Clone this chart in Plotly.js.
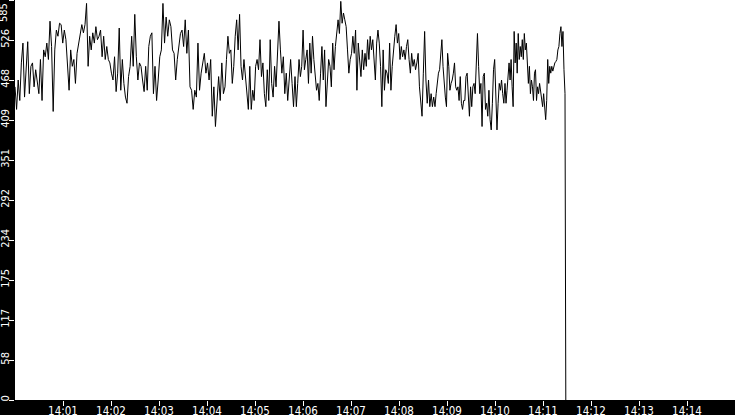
<!DOCTYPE html>
<html>
<head>
<meta charset="utf-8">
<script src="https://cdn.plot.ly/plotly-3.0.1.min.js"></script>
<style>html,body{margin:0;padding:0;background:#000;}#chart{width:735px;height:415px;}</style>
</head>
<body>
<div id="chart"></div>
<script>
// Segment start times (seconds after 14:00:00) and values
const segStartSec = [0, 87.5, 175, 262.5, 350, 437.5, 525, 612.5];
const lastSampleSec = 687.5;
const dropSec = 688.5;
const dropValue = 0;

const seg1 = [458,425,468,438,493,522,443,488,524,448,488,493,458,483,463,448,498,438,512,502,522,498,554,517,422,512,541,532,551,549,522,541,527,488,453,512,488,498,463,507,522,532,549,537];
const seg2 = [549,580,488,532,512,537,522,546,527,532,541,502,532,498,517,498,493,478,468,502,451,478,544,453,498,463,443,434,473,488,532,488,564,502,468,493,488,468,451,488,453,517,532,537,448];
const seg3 = [488,438,468,502,512,580,522,560,532,556,546,512,507,468,498,522,536,541,517,556,507,541,458,453,425,453,443,522,453,478,493,507,478,493,468,498,415,458,400,438,473,438,493,448];
const seg4 = [458,498,532,507,512,463,488,532,556,512,564,488,468,498,473,443,425,488,425,453,438,488,498,483,527,473,493,448,429,483,438,527,463,443,488,458,517,554,512,478,502,448,478,438,468,498,463,429];
const seg5 = [473,429,463,498,473,488,541,483,498,512,463,522,478,532,498,468,453,463,438,478,517,468,512,429,473,498,488,458,522,483,517,541,556,536,583,551,566,556,546,512,478,498,507,532,507,541,453,522,498,473,512,483];
const seg6 = [507,488,527,498,532,512,527,488,468,522,541,522,488,429,512,453,483,478,463,522,453,488,517,532,549,522,536,498,517,502,512,498,517,527,498,478,507,488,498,483,493,507,458,429,415,478,539,468,434,468,429,448,429,443];
const seg7 = [429,448,468,478,483,507,527,488,458,443,429,507,488,453,463,468,478,493,458,453,458,438,473,434,425,438,438,473,478,448,415,458,429,458,463,448,483,536,488,448,463,400,473,478,425,434,415,453,410,395,434,483,498,443,395,434,463,453,468,448,434];
const seg8 = [463,434,453,473,493,468,498,458,429,539,493,522,478,536,498,517,502,527,498,536,512,522,498,463,488,448,468,458,438,478,483,438,458,448,463,453,438,429,448,420,410,438,498,463,488,478,488,481,488,493,495,498,512,517,536,546,517,539,483,448];

const segments = [seg1, seg2, seg3, seg4, seg5, seg6, seg7, seg8];

const yTickVals = [0, 58.5, 117, 175.5, 234, 292.5, 351, 409.5, 468, 526.5, 585];
const yTickText = ['0','58','117','175','234','292','351','409','468','526','585'];
const xTickMinutes = [1,2,3,4,5,6,7,8,9,10,11,12,13,14];

const base = Date.UTC(2024, 0, 1, 14, 0, 0);
function ts(sec) {
  const d = new Date(base + sec * 1000);
  return d.toISOString().replace('T', ' ').replace('Z', '');
}
function hm(min) {
  return '14:' + String(min).padStart(2, '0');
}

const xs = [], ys = [];
segments.forEach((seg, k) => {
  const start = segStartSec[k];
  const last = k + 1 >= segStartSec.length;
  const end = last ? lastSampleSec : segStartSec[k + 1];
  const step = (end - start) / (last ? seg.length - 1 : seg.length);
  seg.forEach((v, i) => { xs.push(ts(start + i * step)); ys.push(v); });
});
xs.push(ts(dropSec)); ys.push(dropValue);

const trace = {
  x: xs, y: ys, type: 'scatter', mode: 'lines',
  line: {color: '#000', width: 1},
  hoverinfo: 'skip'
};

const font = 'Liberation Sans Narrow, DejaVu Sans Condensed, Arial Narrow, sans-serif';

// the top y label is pushed inside the picture, as in the reference
const annotations = [{
  xref: 'paper', yref: 'paper', x: 0, y: 1,
  xanchor: 'right', yanchor: 'top', xshift: -4, yshift: -2,
  text: yTickText[yTickText.length - 1], textangle: -90, showarrow: false,
  borderpad: 0, font: {family: font, size: 11, color: '#fff'}
}];

const layout = {
  width: 735, height: 415,
  margin: {l: 15, r: 0, t: 0, b: 15, pad: 0},
  paper_bgcolor: '#000', plot_bgcolor: '#fff',
  showlegend: false,
  font: {family: font, size: 11, color: '#fff'},
  xaxis: {
    type: 'date',
    range: [ts(0), ts(900)],
    tickmode: 'array',
    tickvals: xTickMinutes.map(m => ts(m * 60)),
    ticktext: xTickMinutes.map(hm),
    ticks: 'outside', ticklen: 5, tickwidth: 1, tickcolor: '#fff',
    ticklabelstandoff: -5,
    showgrid: false, zeroline: false, showline: false,
    tickfont: {family: font, color: '#fff', size: 11.5},
    fixedrange: true
  },
  yaxis: {
    range: [0, 585],
    tickmode: 'array', tickvals: yTickVals,
    ticktext: yTickText.map((t, i) => i === yTickText.length - 1 ? '' : t),
    tickangle: -90,
    ticks: 'outside', ticklen: 5, tickwidth: 1, tickcolor: '#fff',
    ticklabelstandoff: -4,
    showgrid: false, zeroline: false, showline: false,
    tickfont: {family: font, color: '#fff', size: 11},
    fixedrange: true
  },
  annotations: annotations
};

Plotly.newPlot('chart', [trace], layout, {staticPlot: true, displayModeBar: false});
</script>
</body>
</html>
